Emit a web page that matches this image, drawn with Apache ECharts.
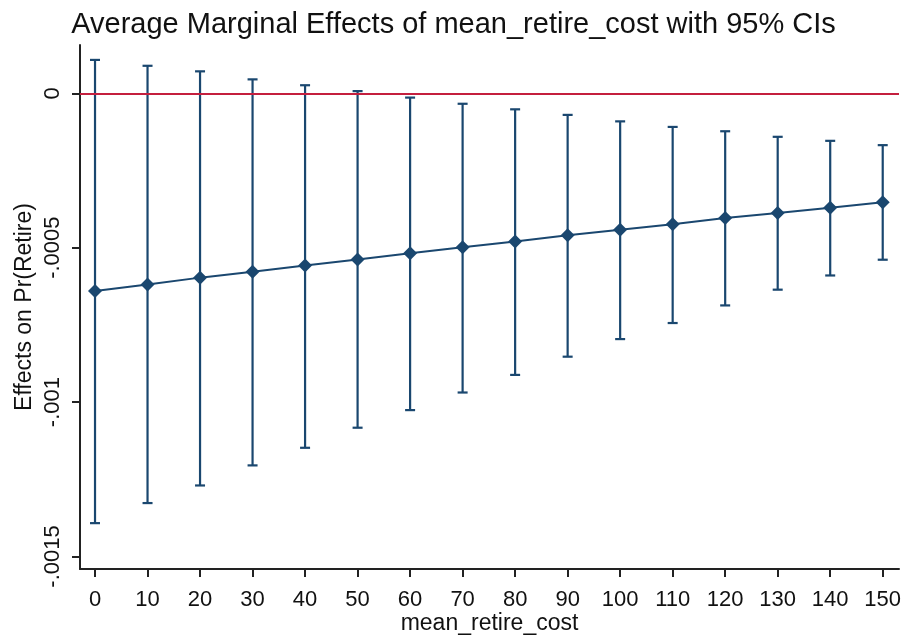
<!DOCTYPE html>
<html>
<head>
<meta charset="utf-8">
<title>Average Marginal Effects of mean_retire_cost</title>
<script src="https://cdn.jsdelivr.net/npm/echarts@6/dist/echarts.min.js"></script>
<style>
  html, body { margin: 0; padding: 0; background: #ffffff; }
  #chart { width: 907px; height: 636px; }
</style>
</head>
<body>
<div id="chart"></div>
<script>
// Values of mean_retire_cost at which the margins were evaluated
var costLevels = [0, 10, 20, 30, 40, 50, 60, 70, 80, 90, 100, 110, 120, 130, 140, 150];

// Average marginal effect on Pr(Retire) at each level
var marginEffects = [-0.000640, -0.000619, -0.000597, -0.000578, -0.000558, -0.000538, -0.000518, -0.000499,
                     -0.000480, -0.000460, -0.000442, -0.000424, -0.000404, -0.000388, -0.000371, -0.000353];

// 95% confidence bounds
var ciUpper = [0.000108, 0.000089, 0.000071, 0.000045, 0.000026, 0.000007, -0.000014, -0.000034,
               -0.000052, -0.000070, -0.000091, -0.000109, -0.000123, -0.000141, -0.000154, -0.000168];
var ciLower = [-0.001392, -0.001327, -0.001270, -0.001205, -0.001148, -0.001083, -0.001026, -0.000969,
               -0.000912, -0.000853, -0.000796, -0.000744, -0.000687, -0.000636, -0.000590, -0.000539];

// Axis ticks and their printed labels
var xTickValues = [0, 10, 20, 30, 40, 50, 60, 70, 80, 90, 100, 110, 120, 130, 140, 150];
var yTickValues = [0, -0.0005, -0.001, -0.0015];
var yTickLabels = ['0', '-.0005', '-.001', '-.0015'];

var NAVY = '#1a476f';
var FONT = '"Liberation Sans", Arial, sans-serif';

var pointData = costLevels.map(function (x, i) { return [x, marginEffects[i]]; });
var ciData = costLevels.map(function (x, i) { return [x, ciLower[i], ciUpper[i]]; });

function yLabelFor(v) {
  for (var i = 0; i < yTickValues.length; i++) {
    if (Math.abs(yTickValues[i] - v) < 1e-9) return yTickLabels[i];
  }
  return '';
}

var chart = echarts.init(document.getElementById('chart'), null, { renderer: 'canvas' });

chart.setOption({
  backgroundColor: '#ffffff',
  animation: false,
  title: {
    text: 'Average Marginal Effects of mean_retire_cost with 95% CIs',
    left: 'center',
    top: 5,
    textStyle: { fontFamily: FONT, fontSize: 29, fontWeight: 'normal', color: '#111111' }
  },
  grid: { left: 80, right: 8, top: 45, bottom: 67, containLabel: false, outerBoundsMode: 'none' },
  xAxis: {
    type: 'value',
    min: -2.86,
    max: 153.1,
    name: 'mean_retire_cost',
    nameLocation: 'middle',
    nameGap: 43,
    nameMoveOverlap: false,
    nameTextStyle: { fontFamily: FONT, fontSize: 23, color: '#111111' },
    axisLine: { show: true, onZero: false, lineStyle: { color: '#222222', width: 2 } },
    axisTick: { show: true, length: 8, lineStyle: { color: '#222222', width: 2 }, customValues: xTickValues },
    axisLabel: { fontFamily: FONT, fontSize: 22, color: '#111111', margin: 20, customValues: xTickValues,
                 formatter: function (v) { return String(Math.round(v)); } },
    splitLine: { show: false }
  },
  yAxis: {
    type: 'value',
    min: -0.0015405,
    max: 0.0001563,
    name: 'Effects on Pr(Retire)',
    nameLocation: 'middle',
    nameRotate: 90,
    nameGap: 44,
    nameMoveOverlap: false,
    nameTextStyle: { fontFamily: FONT, fontSize: 23, color: '#111111' },
    axisLine: { show: true, onZero: false, lineStyle: { color: '#222222', width: 2 } },
    axisTick: { show: true, length: 8, lineStyle: { color: '#222222', width: 2 }, customValues: yTickValues },
    axisLabel: { fontFamily: FONT, fontSize: 22, color: '#111111', margin: 16, rotate: 90,
                 customValues: yTickValues, formatter: yLabelFor },
    splitLine: { show: false }
  },
  series: [
    {
      // light horizontal grid at the labelled y ticks
      type: 'line',
      data: [],
      silent: true,
      z: 1,
      markLine: {
        silent: true,
        symbol: 'none',
        label: { show: false },
        lineStyle: { color: '#e4eef1', width: 2, type: 'solid' },
        data: yTickValues.filter(function (v) { return v !== 0; }).map(function (v) { return { yAxis: v }; })
      }
    },
    {
      // reference line at zero
      type: 'line',
      data: [],
      silent: true,
      z: 2,
      markLine: {
        silent: true,
        symbol: 'none',
        label: { show: false },
        lineStyle: { color: '#c41f3e', width: 2, type: 'solid' },
        data: [{ yAxis: 0 }]
      }
    },
    {
      // 95% CI capped spikes
      type: 'custom',
      z: 3,
      data: ciData,
      encode: { x: 0, y: [1, 2] },
      renderItem: function (params, api) {
        var x = api.value(0);
        var lo = api.coord([x, api.value(1)]);
        var hi = api.coord([x, api.value(2)]);
        var half = 5;
        var style = { stroke: NAVY, lineWidth: 2.2, fill: null };
        return {
          type: 'group',
          children: [
            { type: 'line', shape: { x1: lo[0], y1: lo[1], x2: hi[0], y2: hi[1] }, style: style },
            { type: 'line', shape: { x1: lo[0] - half, y1: lo[1], x2: lo[0] + half, y2: lo[1] }, style: style },
            { type: 'line', shape: { x1: hi[0] - half, y1: hi[1], x2: hi[0] + half, y2: hi[1] }, style: style }
          ]
        };
      }
    },
    {
      // marginal effect estimates
      type: 'line',
      z: 4,
      data: pointData,
      symbol: 'diamond',
      symbolSize: 14,
      showAllSymbol: true,
      lineStyle: { color: NAVY, width: 2 },
      itemStyle: { color: NAVY, borderWidth: 0 }
    }
  ]
});
</script>
</body>
</html>
